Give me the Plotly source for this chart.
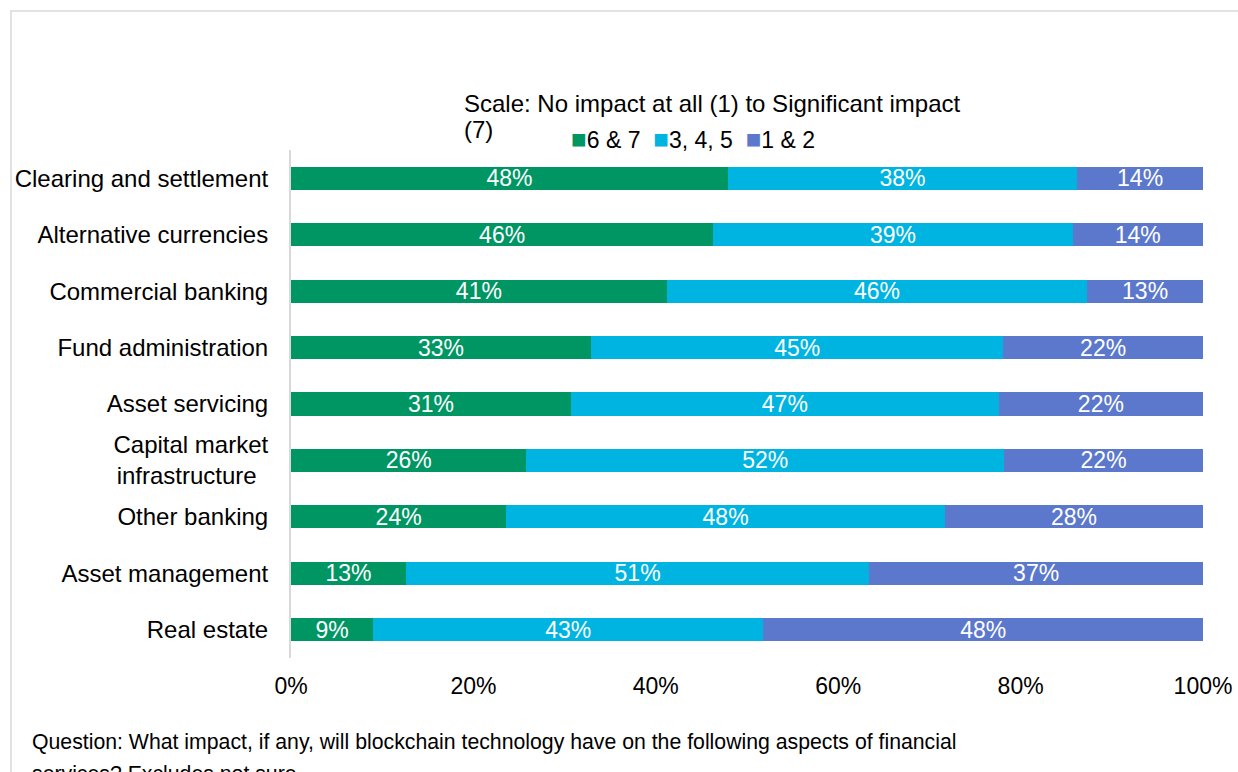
import plotly.graph_objects as go

# ---- data ----
categories = [
    "Clearing and settlement",
    "Alternative currencies",
    "Commercial banking",
    "Fund administration",
    "Asset servicing",
    "Capital market<br>infrastructure\u00a0\u2009",
    "Other banking",
    "Asset management",
    "Real estate",
]
series_names = ["6 & 7", "3, 4, 5", "1 & 2"]
high_impact = [47.9, 46.3, 41.2, 32.9, 30.7, 25.8, 23.6, 12.6, 9.0]
mid_impact = [38.3, 39.4, 46.1, 45.2, 46.9, 52.4, 48.1, 50.8, 42.8]
low_impact = [13.8, 14.3, 12.7, 21.9, 22.4, 21.8, 28.3, 36.6, 48.2]
series_values = [high_impact, mid_impact, low_impact]
series_colors = ["#009664", "#00B4E2", "#5C78CC"]
x_ticks = [0, 20, 40, 60, 80, 100]
x_tick_labels = ["0%", "20%", "40%", "60%", "80%", "100%"]

legend_title_line1 = "Scale: No impact at all (1) to Significant impact"
legend_title_line2 = "(7)"
footnote_line1 = "Question: What impact, if any, will blockchain technology have on the following aspects of financial"
footnote_line2 = "services? Excludes not sure"

FONT = "Liberation Sans, Arial, sans-serif"

fig = go.Figure()
for name, vals, col in zip(series_names, series_values, series_colors):
    fig.add_trace(go.Bar(
        y=categories,
        x=vals,
        name=name,
        orientation="h",
        marker=dict(color=col, line=dict(width=0)),
        texttemplate="%{x:.0f}%",
        textposition="inside",
        insidetextanchor="middle",
        textangle=0,
        constraintext="none",
        textfont=dict(color="white", size=23, family=FONT),
        showlegend=False,
        hoverinfo="x+y+name",
    ))

# legend built as text with coloured square glyphs
legend_text = "\u00a0 ".join(
    f'<span style="color:{c};font-size:26px">\u25A0</span>{n}'
    for n, c in zip(series_names, series_colors)
)

W, H = 1238, 772
L, R, T, B = 291, 35, 150, 114
PW, PH = W - L - R, H - T - B


def px_x(x):
    return (x - L) / PW


def px_y(y):
    return (H - B - y) / PH


annotations = [
    dict(text=legend_title_line1, x=px_x(461.5), y=px_y(103.5), xanchor="left", yanchor="middle",
         font=dict(size=24, color="#000000", family=FONT)),
    dict(text=legend_title_line2, x=px_x(461.5), y=px_y(129), xanchor="left", yanchor="middle",
         font=dict(size=24, color="#000000", family=FONT)),
    dict(text=legend_text, x=px_x(569), y=px_y(139), xanchor="left", yanchor="middle",
         font=dict(size=23, color="#000000", family=FONT)),
    dict(text=footnote_line1, x=px_x(30), y=px_y(741.5), xanchor="left", yanchor="middle",
         font=dict(size=21.25, color="#000000", family=FONT)),
    dict(text=footnote_line2, x=px_x(30), y=px_y(774), xanchor="left", yanchor="middle",
         font=dict(size=21.25, color="#000000", family=FONT)),
]
for a in annotations:
    a.update(xref="paper", yref="paper", showarrow=False)

fig.update_layout(
    width=W, height=H, autosize=False,
    margin=dict(l=L, r=R, t=T, b=B, pad=0, autoexpand=False),
    barmode="stack",
    bargap=0.59,
    paper_bgcolor="white",
    plot_bgcolor="white",
    font=dict(family=FONT, color="#000000", size=23),
    showlegend=False,
    annotations=annotations,
    shapes=[dict(type="rect", xref="paper", yref="paper",
                 x0=px_x(11), x1=1.3, y0=px_y(11), y1=-0.5,
                 line=dict(color="#D9D9D9", width=1.5), fillcolor="rgba(0,0,0,0)", layer="below")],
)
fig.update_xaxes(
    range=[0, 100], tickvals=x_ticks, ticktext=x_tick_labels,
    showgrid=False, zeroline=False, showline=False, ticks="",
    tickfont=dict(size=23, color="#000000", family=FONT),
    ticklabelstandoff=12, automargin=False,
)
fig.update_yaxes(
    autorange="reversed", showgrid=False, zeroline=False,
    showline=True, linecolor="#D9D9D9", linewidth=2, ticks="",
    tickfont=dict(size=24, color="#000000", family=FONT),
    ticklabelstandoff=16, automargin=False,
)

fig.write_html("out.html", config={"displayModeBar": False},
               post_script="document.body.style.margin='0';")
